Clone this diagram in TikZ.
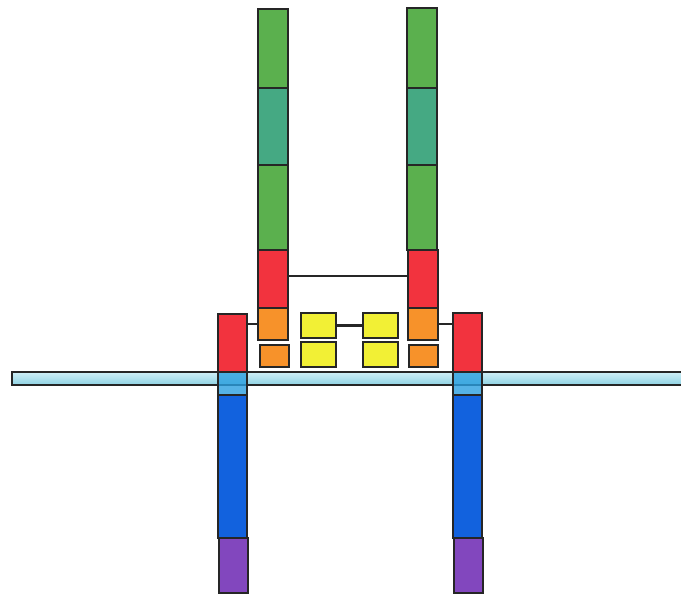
\documentclass[tikz,border=0pt]{standalone}
\usetikzlibrary{fit, calc}

\definecolor{leafgreen}{HTML}{5BB04E}
\definecolor{seateal}{HTML}{45A983}
\definecolor{hotred}{HTML}{F2333E}
\definecolor{amber}{HTML}{F7922A}
\definecolor{lemon}{HTML}{F2F035}
\definecolor{skyblue}{HTML}{2A9FE0}
\definecolor{deepblue}{HTML}{1262DE}
\definecolor{violet}{HTML}{8247BE}
\definecolor{filmtop}{HTML}{CFEFF6}
\definecolor{filmbot}{HTML}{8ED2E3}

\begin{document}
\begin{tikzpicture}[
    x=0.02cm, y=-0.02cm,
    seg/.style={rectangle, draw=black!85, line width=0.85pt, inner sep=0pt},
    link/.style={draw=black!85, line width=1.6pt}
]
\useasboundingbox (0,0) rectangle (681,595);

% membrane
\node [seg, top color=filmtop, bottom color=filmbot,
       fit={(12,372)(700,385)}] (film) {};

% left tall column
\node [seg, fill=leafgreen, fit={(258,9)(288,88)}] (lgA) {};
\node [seg, fill=seateal, fit={(258,88)(288,165)}] (lgB) {};
\node [seg, fill=leafgreen, fit={(258,165)(288,250)}] (lgC) {};
\node [seg, fill=hotred, fit={(258,250)(288,308)}] (lred) {};
\node [seg, fill=amber, fit={(258,308)(288,340)}] (lorA) {};
\node [seg, fill=amber, fit={(260,345)(289,367)}] (lorB) {};

% right tall column
\node [seg, fill=leafgreen, fit={(407,8)(437,88)}] (rgA) {};
\node [seg, fill=seateal, fit={(407,88)(437,165)}] (rgB) {};
\node [seg, fill=leafgreen, fit={(407,165)(437,250)}] (rgC) {};
\node [seg, fill=hotred, fit={(408,250)(438,308)}] (rred) {};
\node [seg, fill=amber, fit={(408,308)(438,340)}] (rorA) {};
\node [seg, fill=amber, fit={(409,345)(438,367)}] (rorB) {};

% yellow blocks
\node [seg, fill=lemon, fit={(301,313)(336,338)}] (ly1) {};
\node [seg, fill=lemon, fit={(301,342)(336,367)}] (ly2) {};
\node [seg, fill=lemon, fit={(363,313)(398,338)}] (ry1) {};
\node [seg, fill=lemon, fit={(363,342)(398,367)}] (ry2) {};

% outer posts
\node [seg, fill=hotred, fit={(218,314)(247,372)}] (lout) {};
\node [seg, fill=skyblue, fill opacity=0.8, fit={(218,372)(247,395)}] (llb) {};
\node [seg, fill=deepblue, fit={(218,395)(247,538)}] (lblue) {};
\node [seg, fill=violet, fit={(219,538)(248,593)}] (lpur) {};

\node [seg, fill=hotred, fit={(453,313)(482,372)}] (rout) {};
\node [seg, fill=skyblue, fill opacity=0.8, fit={(453,372)(482,395)}] (rlb) {};
\node [seg, fill=deepblue, fit={(453,395)(482,538)}] (rblue) {};
\node [seg, fill=violet, fit={(454,538)(483,593)}] (rpur) {};

% links
\path [link] ($(lred.east)+(0,-3)$) -- ($(rred.west)+(0,-3)$);
\path [link] (lorA.west) -- (lorA.west -| lout.east);
\path [link] (ly1.east) -- (ry1.west);
\path [link] (rorA.east) -- (rorA.east -| rout.west);

\end{tikzpicture}
\end{document}
